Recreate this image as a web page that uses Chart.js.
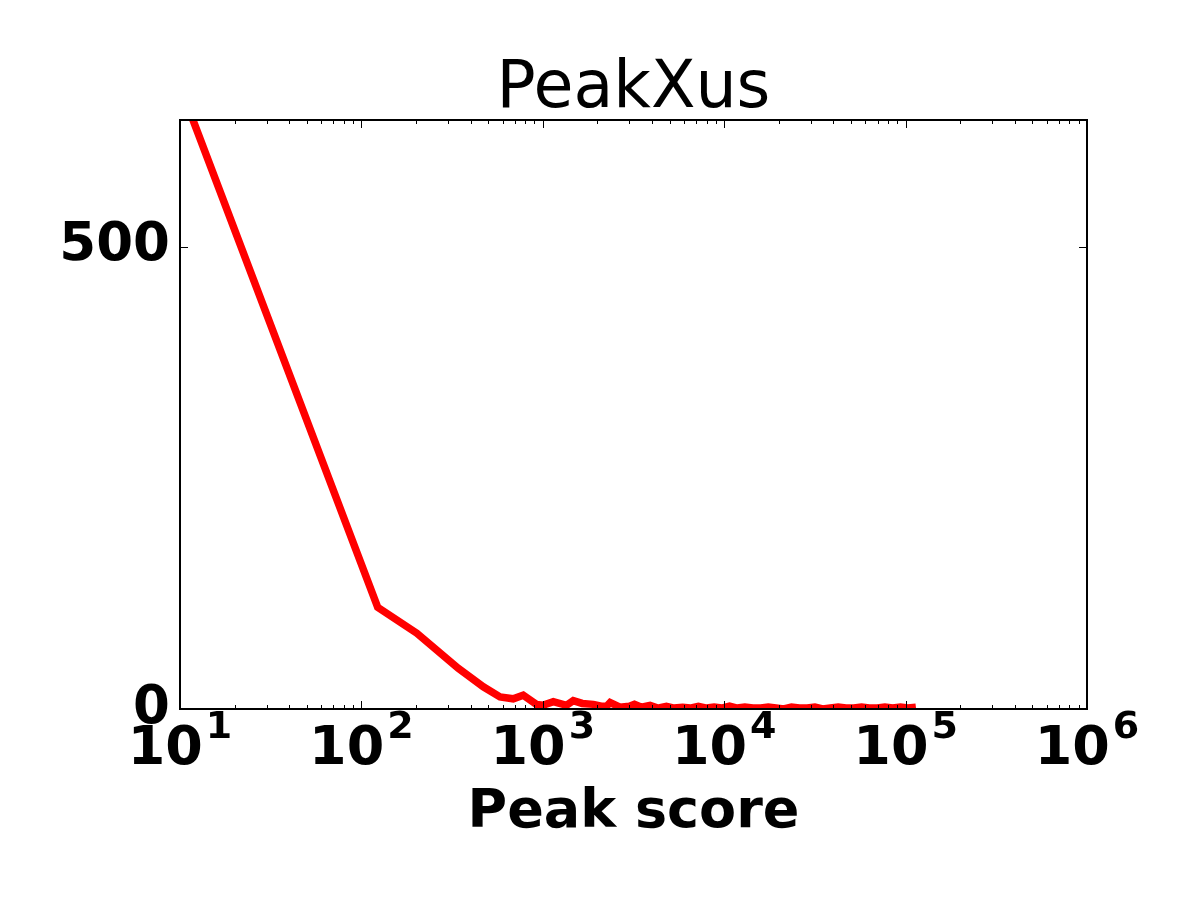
<!DOCTYPE html>
<html>
<head>
<meta charset="utf-8">
<script src="https://cdn.jsdelivr.net/npm/chart.js@4"></script>
<style>
  body { margin: 0; background: #fff; }
  canvas { display: block; }
</style>
</head>
<body>
<canvas id="peakChart" width="1200" height="900"></canvas>
<script>
// data (x: peak score, y: number of peaks)
const peakScore = [10, 123, 202, 342, 470, 581, 687, 780, 922, 1000, 1143, 1350, 1472, 1650,
    1898, 2100, 2248, 2350, 2660, 3000, 3200, 3500, 3900, 4300, 4800, 5300, 5900, 6500, 7200,
    8000, 8800, 9700, 10700, 11800, 13000, 14400, 15900, 17500, 19300, 21300, 23500, 26000,
    28700, 31600, 34900, 38500, 42500, 46900, 51800, 57200, 63100, 69700, 76900, 84900,
    93700, 103000, 114000];
const peakCount = [674, 110, 82, 44, 24, 13, 11, 15, 5, 4, 8, 4, 9, 6,
    5, 3, 3, 7, 2, 3, 5, 2, 4, 1, 3, 1, 2, 1, 3,
    1, 2, 1, 3, 1, 2, 1, 1, 2, 1, 0, 2, 1,
    1, 2, 0, 1, 2, 1, 1, 2, 1, 1, 2, 1,
    2, 1, 2];
const xExponents = [1, 2, 3, 4, 5, 6];
const yTicks = [0, 500];

const titleText = 'PeakXus';
const xLabel = 'Peak score';

// matplotlib-ish frame: spines on all sides, inward ticks, 10^n labels
const mplFrame = {
    id: 'mplFrame',
    afterDraw(chart) {
        const c = chart.ctx;
        const a = chart.chartArea;
        const xs = chart.scales.x;
        const ys = chart.scales.y;
        c.save();
        c.strokeStyle = '#000';

        // ticks
        c.lineWidth = 1;
        c.beginPath();
        xExponents.forEach(e => {
            const px = Math.round(xs.getPixelForValue(Math.pow(10, e))) + 0.5;
            c.moveTo(px, a.bottom); c.lineTo(px, a.bottom - 8);
            c.moveTo(px, a.top); c.lineTo(px, a.top + 8);
            if (e < 6) {
                for (let m = 2; m <= 9; m++) {
                    const mx = Math.round(xs.getPixelForValue(m * Math.pow(10, e))) + 0.5;
                    c.moveTo(mx, a.bottom); c.lineTo(mx, a.bottom - 4);
                    c.moveTo(mx, a.top); c.lineTo(mx, a.top + 4);
                }
            }
        });
        yTicks.forEach(v => {
            const py = Math.round(ys.getPixelForValue(v)) + 0.5;
            c.moveTo(a.left, py); c.lineTo(a.left + 8, py);
            c.moveTo(a.right, py); c.lineTo(a.right - 8, py);
        });
        c.stroke();

        // spines
        c.lineWidth = 2;
        c.strokeRect(a.left, a.top, a.right - a.left, a.bottom - a.top);

        // x tick labels with superscript exponent
        c.fillStyle = '#000';
        c.textBaseline = 'alphabetic';
        c.textAlign = 'left';
        const baseFont = 'bold 54px "DejaVu Sans"';
        const supFont = 'bold 38px "DejaVu Sans"';
        xExponents.forEach(e => {
            const px = xs.getPixelForValue(Math.pow(10, e));
            c.font = baseFont;
            const w1 = c.measureText('10').width;
            c.font = supFont;
            const w2 = c.measureText(String(e)).width;
            const x0 = px - (w1 + 3 + w2) / 2;
            c.font = baseFont;
            c.fillText('10', x0, 764);
            c.font = supFont;
            c.fillText(String(e), x0 + w1 + 3, 738);
        });

        // axis label and title
        c.textAlign = 'center';
        c.font = 'bold 54px "DejaVu Sans"';
        c.fillText(xLabel, (a.left + a.right) / 2, 827);
        c.font = '65px "DejaVu Sans"';
        c.fillText(titleText, (a.left + a.right) / 2, 107);
        c.restore();
    }
};

const ctx = document.getElementById('peakChart').getContext('2d');
const chart = new Chart(ctx, {
    type: 'line',
    data: {
        datasets: [{
            data: peakScore.map((s, i) => ({ x: s, y: peakCount[i] })),
            borderColor: '#ff0000',
            borderWidth: 7.5,
            pointRadius: 0,
            fill: false,
            tension: 0,
            clip: 0
        }]
    },
    options: {
        responsive: false,
        animation: false,
        layout: { padding: { top: 120, right: 113, left: 0, bottom: 0 } },
        plugins: {
            legend: { display: false },
            title: { display: false },
            tooltip: { enabled: false }
        },
        scales: {
            x: {
                type: 'logarithmic',
                min: 10,
                max: 1000000,
                grid: { display: false, drawTicks: false },
                border: { display: false },
                ticks: { display: false },
                afterFit: s => { s.height = 191; }
            },
            y: {
                min: 0,
                max: 637,
                grid: { display: false, drawTicks: false },
                border: { display: false },
                ticks: {
                    color: '#000',
                    padding: 10,
                    font: { family: 'DejaVu Sans', size: 53, weight: 'bold' }
                },
                afterBuildTicks: s => { s.ticks = yTicks.map(v => ({ value: v })); },
                afterFit: s => { s.width = 180; }
            }
        }
    },
    plugins: [mplFrame]
});
</script>
</body>
</html>
